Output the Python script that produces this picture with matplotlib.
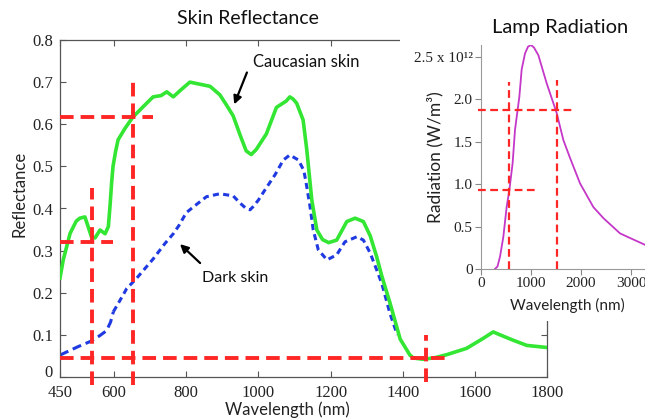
import matplotlib
matplotlib.use('Agg')
import matplotlib.pyplot as plt

# skin reflectance (main plot)
cau_wl = [450, 459, 478, 495, 505, 519, 528, 537, 547, 561, 575, 584, 589, 593, 597, 604, 611, 630, 652, 681,
          708, 730, 746, 764, 783, 810, 838, 866, 893, 912, 930, 949, 966, 980, 994, 1022, 1050, 1077, 1087, 1096,
          1106, 1124, 1134, 1148, 1162, 1178, 1195, 1217, 1245, 1268, 1291, 1310, 1328, 1342, 1365, 1393, 1420,
          1430, 1457, 1490, 1522, 1577, 1620, 1651, 1670, 1707, 1744, 1800]
cau_refl = [0.235, 0.278, 0.341, 0.37, 0.377, 0.38, 0.357, 0.333, 0.33, 0.349, 0.34, 0.357, 0.41, 0.46, 0.50, 0.535,
            0.563, 0.59, 0.617, 0.642, 0.665, 0.668, 0.677, 0.665, 0.68, 0.70, 0.695, 0.69, 0.67, 0.645, 0.62, 0.575,
            0.537, 0.528, 0.54, 0.577, 0.64, 0.655, 0.665, 0.66, 0.65, 0.61, 0.54, 0.42, 0.349, 0.326, 0.319, 0.325,
            0.369, 0.377, 0.369, 0.335, 0.285, 0.24, 0.175, 0.09, 0.052, 0.045, 0.042, 0.046, 0.053, 0.068, 0.09,
            0.107, 0.10, 0.087, 0.075, 0.07]

dark_wl = [450, 470, 500, 533, 560, 579, 590, 598, 615, 635, 663, 690, 708, 741, 764, 780, 800, 820, 856, 893,
           930, 949, 966, 977, 986, 1000, 1018, 1046, 1069, 1087, 1111, 1126, 1134, 1143, 1152, 1166, 1190, 1217,
           1240, 1273, 1291, 1310, 1328, 1342, 1365, 1385]
dark_refl = [0.052, 0.06, 0.072, 0.084, 0.098, 0.11, 0.13, 0.155, 0.18, 0.21, 0.235, 0.262, 0.28, 0.317, 0.34,
             0.36, 0.39, 0.404, 0.428, 0.435, 0.43, 0.413, 0.40, 0.397, 0.405, 0.42, 0.444, 0.48, 0.515, 0.527,
             0.515, 0.49, 0.452, 0.405, 0.349, 0.302, 0.278, 0.29, 0.321, 0.333, 0.325, 0.294, 0.254, 0.222, 0.15,
             0.10]

# guide lines: (level, start, end)
main_hlines = [(0.617, 450, 708), (0.321, 450, 597), (0.046, 450, 1523)]
main_vlines = [(652, -0.02, 0.71), (539, -0.02, 0.448), (1464, -0.012, 0.10)]

# lamp radiation (inset)
lamp_wl = [280, 330, 380, 447, 513, 567, 633, 680, 767, 813, 880, 940, 1000, 1060, 1147, 1313, 1513, 1647, 1780,
           1980, 2247, 2447, 2780, 3000, 3300]
lamp_rad = [0, 0.03, 0.145, 0.38, 0.73, 0.93, 1.25, 1.64, 2.03, 2.35, 2.54, 2.62, 2.64, 2.61, 2.52, 2.19, 1.84,
            1.52, 1.31, 1.01, 0.73, 0.60, 0.42, 0.36, 0.28]
lamp_hlines = [(1.875, -66, 1840), (0.93, -66, 1120)]
lamp_vlines = [(567, 0, 2.2), (1513, 0, 2.23)]

main_xticks = [450, 600, 800, 1000, 1200, 1400, 1600, 1800]
main_yticks = [0, 0.1, 0.2, 0.3, 0.4, 0.5, 0.6, 0.7, 0.8]
main_yticklabels = ['0', '0.1', '0.2', '0.3', '0.4', '0.5', '0.6', '0.7', '0.8']
lamp_xticks = [0, 1000, 2000, 3000]
lamp_yticks = [0, 0.5, 1.0, 1.5, 2.0, 2.5]
lamp_yticklabels = ['0', '0.5', '1.0', '1.5', '2.0', '2.5 x 10¹²']

SANS = 'Lato'
SERIF = 'Liberation Serif'
GREEN = '#33e633'
BLUE = '#1f3ae0'
RED = '#ff2626'

fig = plt.figure(figsize=(6.45, 4.19), dpi=100)

#%% main axes
ax = fig.add_axes([60 / 645, 42 / 419, 487 / 645, 337 / 419])
ax.plot(cau_wl, cau_refl, color=GREEN, lw=2.6, zorder=3)
n = dark_wl.index(598)
ax.plot(dark_wl[:n + 1], dark_refl[:n + 1], color=BLUE, lw=2.2, dashes=(3, 1.6), zorder=2)
ax.plot(dark_wl[n:], dark_refl[n:], color=BLUE, lw=2.2, dashes=(2, 1.4), zorder=2)

for y, x0, x1 in main_hlines:
    ax.plot([x0, x1], [y, y], color=RED, lw=2.8, dashes=(3.5, 1.8), zorder=4, clip_on=False)
for x, y0, y1 in main_vlines:
    ax.plot([x, x], [y0, y1], color=RED, lw=2.8, dashes=(3.5, 1.8), zorder=4, clip_on=False)

ax.set_xlim(450, 1800)
ax.set_ylim(0, 0.8)
ax.set_xticks(main_xticks)
ax.set_yticks(main_yticks)
ax.set_yticklabels(main_yticklabels)
ax.tick_params(direction='in', top=True, right=True, length=4, color='#555555',
               labelsize=12, labelcolor='#222222')
ax.tick_params(axis='y', pad=5)
ax.tick_params(axis='x', pad=6)
for lab in ax.get_xticklabels() + ax.get_yticklabels():
    lab.set_family(SERIF)
ax.get_yticklabels()[0].set_verticalalignment('baseline')
for s in ax.spines.values():
    s.set_color('#555555')
    s.set_linewidth(0.9)

ax.set_ylabel('Reflectance', family=SANS, fontsize=12, color='#222222')
ax.yaxis.set_label_coords(-0.066, 0.543)
ax.set_xlabel('Wavelength (nm)', family=SANS, fontsize=12, color='#222222')
ax.xaxis.set_label_coords(0.466, -0.072)
ax.text(0.386, 1.065, 'Skin Reflectance', transform=ax.transAxes, ha='center', va='center',
        family=SANS, fontsize=14, color='#111111')

ax.annotate('', xy=(930, 0.641), xytext=(971, 0.729),
            arrowprops=dict(arrowstyle='-|>', color='black', lw=1.6, mutation_scale=12))
ax.text(985, 0.748, 'Caucasian skin', family=SANS, fontsize=12, va='center', color='#111111')
ax.annotate('', xy=(777, 0.32), xytext=(844, 0.266),
            arrowprops=dict(arrowstyle='-|>', color='black', lw=1.6, mutation_scale=12))
ax.text(844, 0.235, 'Dark skin', family=SANS, fontsize=11.5, va='center', color='#111111')

#%% white patch behind the inset
bg = fig.add_axes([400 / 645, 98 / 419, 245 / 645, 321 / 419])
bg.set_facecolor('white')
bg.set_xticks([])
bg.set_yticks([])
for s in bg.spines.values():
    s.set_visible(False)

#%% inset
ins = fig.add_axes([481 / 645, 150 / 419, 164 / 645, 224 / 419])
ins.patch.set_alpha(0)
ins.plot(lamp_wl, lamp_rad, color='#c437c8', lw=1.3, zorder=3)
for y, x0, x1 in lamp_hlines:
    ins.plot([x0, x1], [y, y], color=RED, lw=1.6, dashes=(3.5, 2), zorder=4, clip_on=False)
for x, y0, y1 in lamp_vlines:
    ins.plot([x, x], [y0, y1], color=RED, lw=1.6, dashes=(3.5, 2), zorder=4, clip_on=False)
ins.set_xlim(0, 3280)
ins.set_ylim(0, 2.64)
ins.set_xticks(lamp_xticks)
ins.set_yticks(lamp_yticks)
ins.set_yticklabels(lamp_yticklabels)
ins.tick_params(direction='out', length=4, color='#888888', labelsize=11, labelcolor='#222222', pad=2)
for lab in ins.get_xticklabels() + ins.get_yticklabels():
    lab.set_family(SERIF)
ins.spines['top'].set_visible(False)
ins.spines['right'].set_visible(False)
ins.spines['left'].set_color('#999999')
ins.spines['bottom'].set_color('#999999')
ins.set_ylabel('Radiation (W/m³)', family=SANS, fontsize=12.5, color='#222222')
ins.yaxis.set_label_coords(-0.226, 0.5)
ins.set_xlabel('Wavelength (nm)', family=SANS, fontsize=11, color='#222222')
ins.xaxis.set_label_coords(0.524, -0.13)
ins.text(0.48, 1.08, 'Lamp Radiation', transform=ins.transAxes, ha='center', va='center',
         family=SANS, fontsize=14.5, color='#111111')

fig.savefig('out.png', dpi=100)
